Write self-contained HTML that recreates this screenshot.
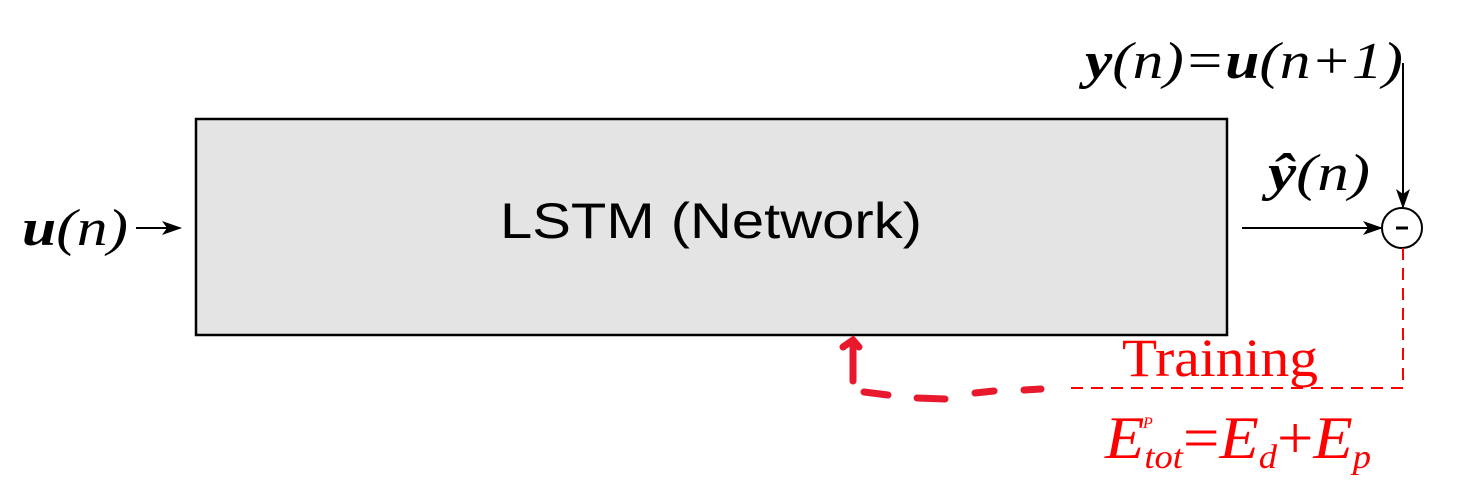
<!DOCTYPE html>
<html><head><style>
body{margin:0;background:#fff;width:1482px;height:503px;overflow:hidden}
svg{display:block}
</style></head><body>
<svg width="1482" height="503" viewBox="0 0 1482 503" xmlns="http://www.w3.org/2000/svg">
<defs>
<marker id="ah" viewBox="0 0 20 14" refX="18" refY="7" markerWidth="20" markerHeight="14" markerUnits="userSpaceOnUse" orient="auto">
<path d="M0,0 L20,7 L0,14 L5,7 Z" fill="#000"/>
</marker>
</defs>
<rect x="196" y="119" width="1031" height="216" fill="#e4e4e4" stroke="#000" stroke-width="2.5"/>
<text x="500" y="238" font-family="Liberation Sans, sans-serif" font-size="50" textLength="422" lengthAdjust="spacingAndGlyphs" fill="#000">LSTM (Network)</text>
<text x="22" y="245" font-family="Liberation Serif, serif" font-size="52" font-style="italic" textLength="106" lengthAdjust="spacingAndGlyphs"><tspan font-weight="bold">u</tspan>(n)</text>
<line x1="136" y1="228" x2="180" y2="228" stroke="#000" stroke-width="2" marker-end="url(#ah)"/>
<line x1="1242" y1="228" x2="1381" y2="228" stroke="#000" stroke-width="2" marker-end="url(#ah)"/>
<text x="1268" y="190" font-family="Liberation Serif, serif" font-size="52" font-style="italic" textLength="102" lengthAdjust="spacingAndGlyphs"><tspan font-weight="bold">ŷ</tspan>(n)</text>
<text x="1085" y="78" font-family="Liberation Serif, serif" font-size="52" font-style="italic" textLength="318" lengthAdjust="spacingAndGlyphs"><tspan font-weight="bold">y</tspan>(n)=<tspan font-weight="bold">u</tspan>(n+1)</text>
<line x1="1403" y1="63" x2="1403" y2="207" stroke="#000" stroke-width="2" marker-end="url(#ah)"/>
<circle cx="1402" cy="228" r="20" fill="#fff" stroke="#000" stroke-width="2"/>
<line x1="1396" y1="228" x2="1408" y2="228" stroke="#000" stroke-width="3"/>
<path d="M1403,248 L1403,388 L1068,388" fill="none" stroke="#f00" stroke-width="2" stroke-dasharray="12,8"/>
<g stroke="#e8192c" stroke-width="7" stroke-linecap="round" fill="none">
<line x1="1024" y1="390" x2="1041" y2="389"/>
<line x1="975" y1="393" x2="994" y2="391"/>
<line x1="917" y1="398" x2="945" y2="399"/>
<line x1="864" y1="392" x2="888" y2="395"/>
<path d="M853,381 L853,343 M843,347 L853,340 L859,347"/>
</g>
<text x="1122" y="376" font-family="Liberation Serif, serif" font-size="54" fill="#f00" textLength="196" lengthAdjust="spacingAndGlyphs">Training</text>
<text x="1105" y="458" font-family="Liberation Serif, serif" font-size="60" font-style="italic" fill="#f00" textLength="266" lengthAdjust="spacingAndGlyphs">E<tspan font-size="34" dy="10">tot</tspan><tspan dy="-10" font-style="normal">=</tspan>E<tspan font-size="34" dy="10">d</tspan><tspan dy="-10" font-style="normal">+</tspan>E<tspan font-size="34" dy="10">p</tspan></text>
<text x="1143" y="428" font-family="Liberation Serif, serif" font-size="16" font-style="italic" fill="#f00">P</text>
</svg>
</body></html>
